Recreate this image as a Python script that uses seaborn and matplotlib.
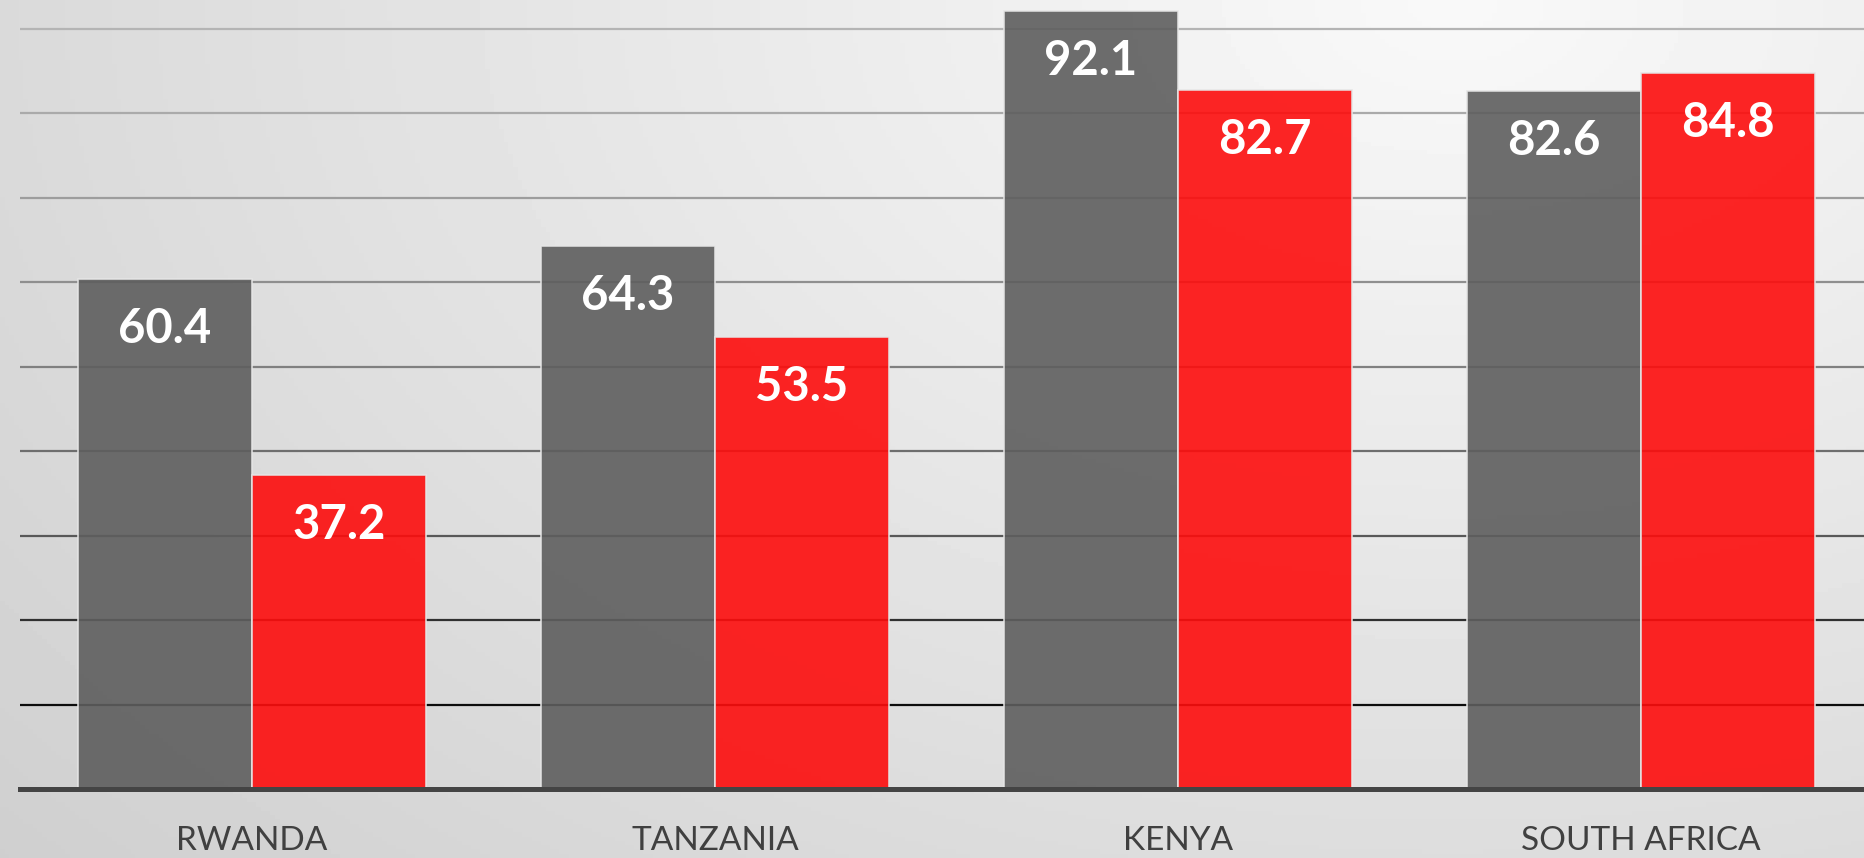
import matplotlib
matplotlib.use("Agg")
import matplotlib.pyplot as plt
import numpy as np
import pandas as pd
import seaborn as sns

# data
countries = ["RWANDA", "TANZANIA", "KENYA", "SOUTH AFRICA"]
series_grey = [60.4, 64.3, 92.1, 82.6]
series_red = [37.2, 53.5, 82.7, 84.8]
series_names = ["Series 1", "Series 2"]
y_ticks = [10, 20, 30, 40, 50, 60, 70, 80, 90]

df = pd.DataFrame(
    {
        "country": countries * 2,
        "value": series_grey + series_red,
        "series": [series_names[0]] * len(countries) + [series_names[1]] * len(countries),
    }
)

sns.set_theme(style="white")
plt.rcParams["font.family"] = ["Lato", "DejaVu Sans"]

fig = plt.figure(figsize=(18.65, 8.58), dpi=100)

# soft grey background, lightest near the top right
bg = fig.add_axes([0, 0, 1, 1], zorder=-10)
xx, yy = np.meshgrid(np.linspace(0, 1, 400), np.linspace(0, 1, 200))
dist = np.sqrt((xx - 0.78) ** 2 + ((yy - 1.0) * 0.7) ** 2)
shade = np.clip(249 - 40 * dist, 0, 255) / 255.0
bg.imshow(shade, cmap="gray", vmin=0, vmax=1, origin="lower", aspect="auto",
          extent=[0, 1, 0, 1])
bg.set_axis_off()

ax = fig.add_axes([20 / 1865, 1 - 789 / 858, 1 - 20 / 1865, 789 / 858])
ax.patch.set_alpha(0)

sns.barplot(
    data=df,
    x="country",
    y="value",
    hue="series",
    palette=["#5e5e5e", "#fd0d0d"],
    saturation=1,
    width=0.752,
    alpha=0.9,
    edgecolor="#e6e6e6",
    linewidth=1.2,
    ax=ax,
    legend=False,
    zorder=3,
)

ax.set_xlim(-0.501, 3.484)
ax.set_ylim(0, 93.4)
ax.set_yticks(y_ticks)
ax.set_yticklabels([])
ax.tick_params(axis="y", length=0)
ax.tick_params(axis="x", length=0, pad=27, labelsize=24, labelcolor="#404040")
ax.set_xlabel("")
ax.set_ylabel("")

# gridlines fade from near-black at the bottom to light grey at the top
grid_colors = ["#0d0d0d", "#303030", "#585858", "#6e6e6e", "#808080",
               "#8f8f8f", "#9d9d9d", "#aaaaaa", "#b4b4b4"]
ax.grid(axis="y", linewidth=1.6, zorder=1)
for gl, c in zip(ax.get_ygridlines(), grid_colors):
    gl.set_color(c)
ax.set_axisbelow(True)

for side in ["left", "right", "top"]:
    ax.spines[side].set_visible(False)
ax.spines["bottom"].set_color("#444444")
ax.spines["bottom"].set_linewidth(3.6)
ax.spines["bottom"].set_zorder(5)

for container in ax.containers:
    for bar in container:
        h = bar.get_height()
        ax.annotate(
            f"{h:.1f}",
            (bar.get_x() + bar.get_width() / 2, h),
            xytext=(0, -36),
            textcoords="offset points",
            ha="center",
            va="center",
            color="white",
            fontsize=34,
            fontweight="bold",
            zorder=6,
        )

fig.savefig("out.png", dpi=100)
